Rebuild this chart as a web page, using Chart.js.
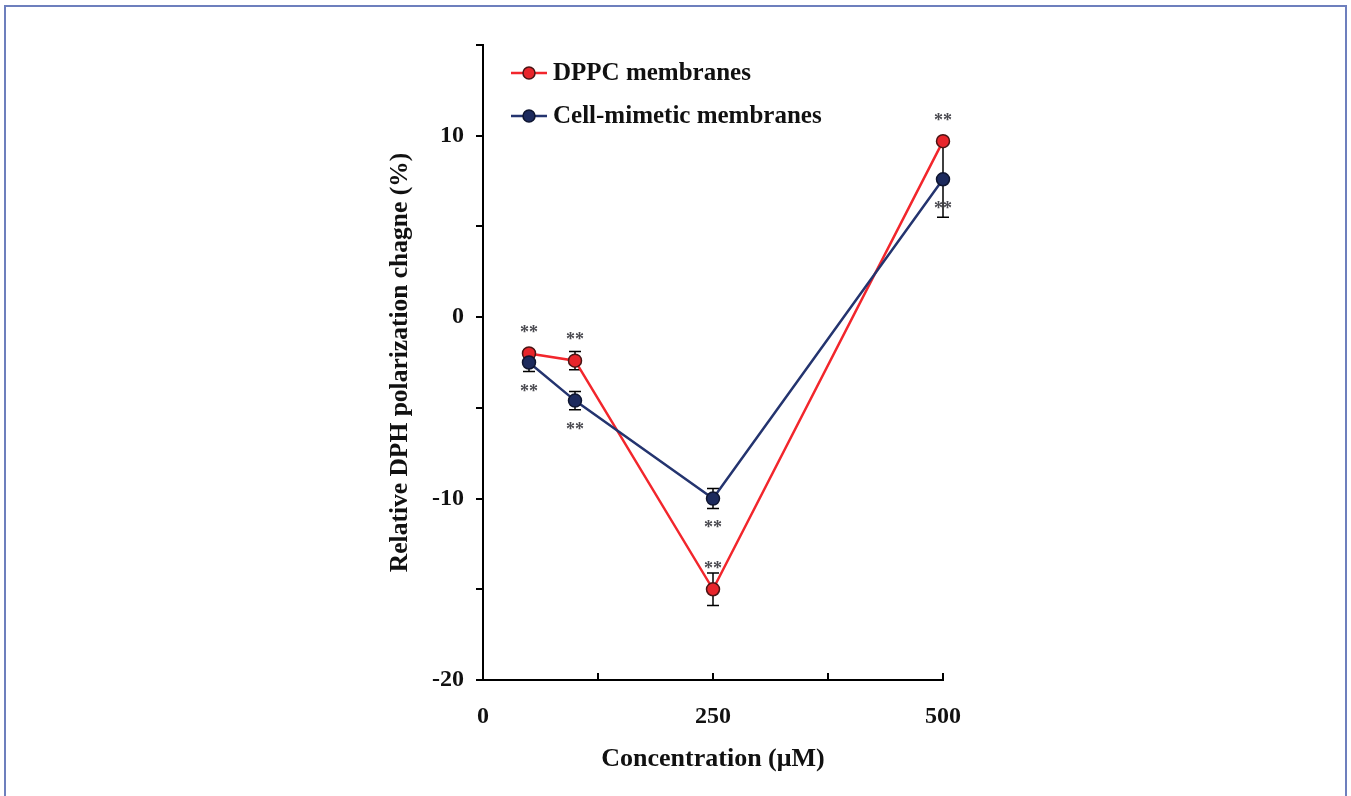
<!DOCTYPE html>
<html>
<head>
<meta charset="utf-8">
<title>Relative DPH polarization change</title>
<script src="https://cdn.jsdelivr.net/npm/chart.js@4.4.1/dist/chart.umd.min.js"></script>
<style>
  html, body { margin: 0; padding: 0; background: #fff; overflow: hidden; }
  #wrap { position: relative; width: 1351px; height: 796px; }
  #frame {
    position: absolute; left: 4px; top: 5px; width: 1343px; height: 800px;
    border: 2px solid #6d7fbd; border-bottom: none; box-sizing: border-box;
    pointer-events: none;
  }
</style>
</head>
<body>
<div id="wrap">
  <canvas id="myChart" width="1351" height="796"></canvas>
  <div id="frame"></div>
</div>
<script>
// concentrations in µM
const concentrations = [50, 100, 250, 500];

// DPPC membranes
const dppcValues = [-2.0, -2.4, -15.0, 9.7];
const dppcErrors = [0.2, 0.5, 0.9, 0.15];
const dppcSig = ["**", "**", "**", "**"];

// Cell-mimetic membranes
const cellValues = [-2.5, -4.6, -10.0, 7.6];
const cellErrors = [0.5, 0.5, 0.55, 2.1];
const cellSig = ["**", "**", "**", "**"];

const xTickLabels = [0, 250, 500];
const yTickLabels = [10, 0, -10, -20];

const serif = "'Liberation Serif', 'Times New Roman', serif";

function toPoints(values) {
   return concentrations.map((x, i) => ({ x: x, y: values[i] }));
}

// error bars behind the lines
const errorBars = {
   id: "errorBars",
   beforeDatasetsDraw(chart) {
      const { ctx, scales: { x, y } } = chart;
      ctx.save();
      ctx.strokeStyle = "#000";
      ctx.lineWidth = 1.5;
      chart.data.datasets.forEach((ds) => {
         ds.errors.forEach((e, i) => {
            const px = x.getPixelForValue(concentrations[i]);
            const top = y.getPixelForValue(ds.values[i] + e);
            const bot = y.getPixelForValue(ds.values[i] - e);
            ctx.beginPath();
            ctx.moveTo(px, top);
            ctx.lineTo(px, bot);
            ctx.moveTo(px - 6, top);
            ctx.lineTo(px + 6, top);
            ctx.moveTo(px - 6, bot);
            ctx.lineTo(px + 6, bot);
            ctx.stroke();
         });
      });
      ctx.restore();
   },
   afterDatasetsDraw(chart) {
      // significance stars, DPPC above the point, cell-mimetic below
      const { ctx, scales: { x, y } } = chart;
      ctx.save();
      ctx.font = "bold 18px " + serif;
      ctx.fillStyle = "#4a4a50";
      ctx.textAlign = "center";
      ctx.textBaseline = "middle";
      chart.data.datasets.forEach((ds) => {
         ds.sig.forEach((s, i) => {
            const px = x.getPixelForValue(concentrations[i]);
            const py = y.getPixelForValue(ds.values[i]);
            ctx.fillText(s, px, py + (ds.sigSide < 0 ? -20 : 30));
         });
      });
      ctx.restore();
   },
};

// inward tick marks on the x axis + legend in the upper left
const extras = {
   id: "extras",
   afterDraw(chart) {
      const { ctx, chartArea, scales: { x } } = chart;
      ctx.save();
      ctx.strokeStyle = "#000";
      ctx.lineWidth = 2;
      x.ticks.forEach((t) => {
         if (t.value <= 0) return;
         const px = x.getPixelForValue(t.value);
         ctx.beginPath();
         ctx.moveTo(px, chartArea.bottom);
         ctx.lineTo(px, chartArea.bottom - 7);
         ctx.stroke();
      });

      const lx = chartArea.left + 28;
      chart.data.datasets.forEach((ds, i) => {
         const ly = chartArea.top + 28 + i * 43;
         ctx.strokeStyle = ds.borderColor;
         ctx.lineWidth = 2.5;
         ctx.beginPath();
         ctx.moveTo(lx, ly);
         ctx.lineTo(lx + 36, ly);
         ctx.stroke();
         ctx.beginPath();
         ctx.arc(lx + 18, ly, 6, 0, Math.PI * 2);
         ctx.fillStyle = ds.pointBackgroundColor;
         ctx.fill();
         ctx.lineWidth = 1.5;
         ctx.strokeStyle = ds.pointBorderColor;
         ctx.stroke();
         ctx.fillStyle = "#111";
         ctx.font = "bold 25px " + serif;
         ctx.textAlign = "left";
         ctx.textBaseline = "middle";
         ctx.fillText(ds.label, lx + 42, ly + 1);
      });
      ctx.restore();
   },
};

const ctx = document.getElementById("myChart").getContext("2d");
const myChart = new Chart(ctx, {
   type: "line",
   data: {
      datasets: [
         {
            label: "DPPC membranes",
            data: toPoints(dppcValues),
            values: dppcValues,
            errors: dppcErrors,
            sig: dppcSig,
            sigSide: -1,
            borderColor: "#f2262c",
            borderWidth: 2.5,
            pointBackgroundColor: "#e8252b",
            pointBorderColor: "#4a1414",
            pointBorderWidth: 1.5,
            pointRadius: 6.5,
            tension: 0,
            clip: false,
            order: 1,
         },
         {
            label: "Cell-mimetic membranes",
            data: toPoints(cellValues),
            values: cellValues,
            errors: cellErrors,
            sig: cellSig,
            sigSide: 1,
            borderColor: "#24346f",
            borderWidth: 2.5,
            pointBackgroundColor: "#1c2a5d",
            pointBorderColor: "#0e1530",
            pointBorderWidth: 1.5,
            pointRadius: 6.5,
            tension: 0,
            clip: false,
            order: 0,
         },
      ],
   },
   options: {
      responsive: false,
      animation: false,
      layout: { padding: { left: 383, right: 408, top: 45, bottom: 0 } },
      plugins: {
         legend: { display: false },
         tooltip: { enabled: false },
      },
      scales: {
         x: {
            type: "linear",
            min: 0,
            max: 500,
            afterFit: (s) => { s.height = 116; },
            grid: { display: false },
            border: { display: true, color: "#000", width: 2 },
            ticks: {
               stepSize: 125,
               autoSkip: false,
               maxRotation: 0,
               padding: 14,
               color: "#111",
               font: { family: serif, size: 24, weight: "bold" },
               callback: (v) => (xTickLabels.includes(v) ? v : ""),
            },
            title: {
               display: true,
               text: "Concentration (μM)",
               color: "#111",
               font: { family: serif, size: 26, weight: "bold" },
               padding: { top: 0, bottom: 21 },
            },
         },
         y: {
            min: -20,
            max: 15,
            afterFit: (s) => { s.width = 100; },
            grid: {
               drawOnChartArea: false,
               drawTicks: true,
               tickLength: 7,
               color: "#000",
               lineWidth: 2,
            },
            border: { display: true, color: "#000", width: 2 },
            ticks: {
               stepSize: 5,
               autoSkip: false,
               padding: 12,
               color: "#111",
               font: { family: serif, size: 24, weight: "bold" },
               callback: (v) => (yTickLabels.includes(v) ? v : ""),
            },
            title: {
               display: true,
               text: "Relative DPH polarization chagne (%)",
               color: "#111",
               font: { family: serif, size: 25.5, weight: "bold" },
               padding: { top: 2, bottom: 0 },
            },
         },
      },
   },
   plugins: [errorBars, extras],
});
</script>
</body>
</html>
